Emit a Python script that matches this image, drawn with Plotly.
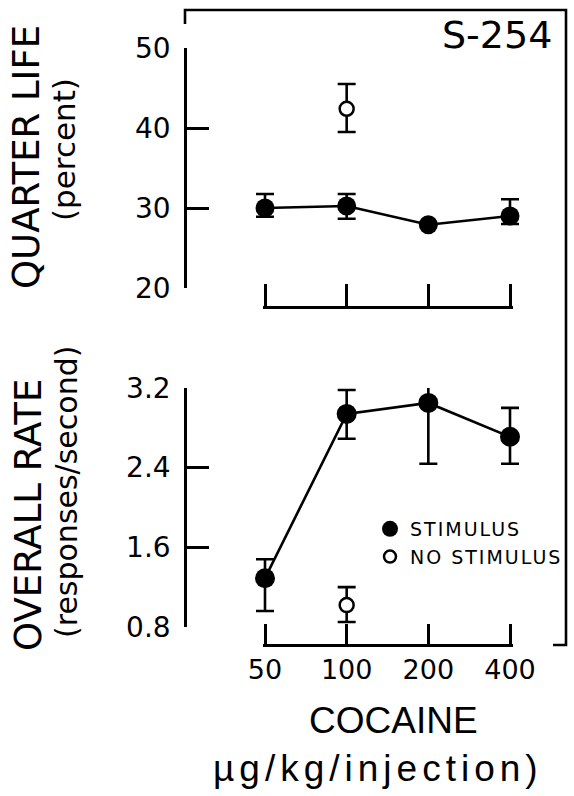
import numpy as np
import plotly.graph_objects as go

W, H = 574, 796

dose = [50, 100, 200, 400]
dose_labels = ['50', '100', '200', '400']

# quarter life (percent)
ql_stim = [30.0, 30.25, 27.9, 29.0]
ql_stim_up = [1.75, 1.5, 0, 2.1]
ql_stim_dn = [1.1, 1.6, 0, 1.0]
ql_nostim_dose = [100]
ql_nostim = [42.4]
ql_nostim_up = [3.1]
ql_nostim_dn = [2.9]

# overall rate (responses/second)
rate_stim = [1.29, 2.94, 3.05, 2.71]
rate_stim_up = [0.19, 0.24, 0.59, 0.29]
rate_stim_dn = [0.33, 0.25, 0.61, 0.27]
rate_nostim_dose = [100]
rate_nostim = [1.02]
rate_nostim_up = [0.18]
rate_nostim_dn = [0.17]

ql_ticks = [20, 30, 40, 50]
rate_ticks = [0.8, 1.6, 2.4, 3.2]
rate_ticktext = ['0.8', '1.6', '2.4', '3.2']


def px(x):
    return x / W


def py(y):
    return 1 - y / H


FONT = 'DejaVu Sans'
LW = 2.6

# pixel layout of the original figure
yax_x = 185          # y axis line
x_first, x_last = 265, 510   # 50 and 400 on the x scale
frame_r = 566
dec = (x_last - x_first) / (np.log10(400) - np.log10(50))
xr = [np.log10(50) - (x_first - yax_x) / dec, np.log10(400) + (frame_r - x_last) / dec]

fig = go.Figure()

err_style = dict(type='data', symmetric=False, color='black', thickness=LW, width=9)

# top panel
fig.add_trace(go.Scatter(x=dose, y=ql_stim, mode='lines+markers', xaxis='x', yaxis='y',
                         line=dict(color='black', width=LW),
                         marker=dict(size=19, color='black'),
                         error_y=dict(array=ql_stim_up, arrayminus=ql_stim_dn, **err_style),
                         showlegend=False, cliponaxis=False))
fig.add_trace(go.Scatter(x=ql_nostim_dose, y=ql_nostim, mode='markers', xaxis='x', yaxis='y',
                         marker=dict(size=14, color='white', line=dict(color='black', width=2.5)),
                         error_y=dict(array=ql_nostim_up, arrayminus=ql_nostim_dn, **err_style),
                         showlegend=False, cliponaxis=False))

# bottom panel
fig.add_trace(go.Scatter(x=dose, y=rate_stim, mode='lines+markers', xaxis='x2', yaxis='y2',
                         line=dict(color='black', width=LW),
                         marker=dict(size=20, color='black'),
                         error_y=dict(array=rate_stim_up, arrayminus=rate_stim_dn, **err_style),
                         showlegend=False, cliponaxis=False))
fig.add_trace(go.Scatter(x=rate_nostim_dose, y=rate_nostim, mode='markers', xaxis='x2', yaxis='y2',
                         marker=dict(size=14, color='white', line=dict(color='black', width=2.5)),
                         error_y=dict(array=rate_nostim_up, arrayminus=rate_nostim_dn, **err_style),
                         showlegend=False, cliponaxis=False))

# legend entries
fig.add_trace(go.Scatter(x=[None], y=[None], mode='markers', xaxis='x2', yaxis='y2',
                         marker=dict(size=16, color='black'),
                         name='<span style="letter-spacing:2px">STIMULUS</span>'))
fig.add_trace(go.Scatter(x=[None], y=[None], mode='markers', xaxis='x2', yaxis='y2',
                         marker=dict(size=12, color='white', line=dict(color='black', width=2.5)),
                         name='<span style="letter-spacing:2px">NO STIMULUS</span>'))

# dummy traces so the bracket axes get drawn
fig.add_trace(go.Scatter(x=[None], y=[None], xaxis='x3', yaxis='y', showlegend=False, hoverinfo='skip'))
fig.add_trace(go.Scatter(x=[None], y=[None], xaxis='x4', yaxis='y2', showlegend=False, hoverinfo='skip'))

data_x = dict(type='log', range=xr, domain=[px(yax_x), px(frame_r)], visible=False)
# plotly drops inside ticks sitting on the axis ends, so pad the bracket by a couple of px
pad = 2.5
bracket_x = dict(type='log', range=[np.log10(50) - pad / dec, np.log10(400) + pad / dec],
                 domain=[px(x_first - pad), px(x_last + pad)],
                 anchor='free', showline=True, linecolor='black', linewidth=LW,
                 ticks='inside', tickwidth=LW, tickcolor='black',
                 tickvals=dose, ticktext=dose_labels, showgrid=False, zeroline=False)
yax = dict(anchor='free', position=px(yax_x), showline=True, linecolor='black', linewidth=LW,
           ticks='inside', ticklen=22, tickwidth=LW, tickcolor='black', showgrid=False,
           zeroline=False, tickfont=dict(family=FONT, size=28, color='black'),
           ticklabelstandoff=8)

fig.update_layout(
    width=W, height=H,
    margin=dict(l=0, r=0, t=0, b=0, pad=0, autoexpand=False),
    paper_bgcolor='white', plot_bgcolor='rgba(0,0,0,0)',
    font=dict(family=FONT, color='black'),
    xaxis=data_x,
    xaxis2=dict(data_x, anchor='y2'),
    xaxis3=dict(bracket_x, position=py(307), ticklen=22, showticklabels=False),
    xaxis4=dict(bracket_x, position=py(645), ticklen=20, showticklabels=True,
                tickfont=dict(family=FONT, size=27, color='black')),
    yaxis=dict(yax, domain=[py(288), py(48)], range=[20, 50], tickvals=ql_ticks),
    yaxis2=dict(yax, domain=[py(627), py(388)], range=[0.8, 3.2], tickvals=rate_ticks,
                ticktext=rate_ticktext),
    legend=dict(x=px(370), y=py(510), xanchor='left', yanchor='top',
                font=dict(family=FONT, size=19, color='black'),
                bgcolor='rgba(0,0,0,0)', itemwidth=30, tracegroupgap=0),
    showlegend=True,
)

# frame around the panels
fig.add_shape(type='path', xref='paper', yref='paper',
              path=f'M {px(yax_x)} {py(24)} L {px(yax_x)} {py(10)} L {px(frame_r)} {py(10)} '
                   f'L {px(frame_r)} {py(645)} L {px(553)} {py(645)}',
              line=dict(color='black', width=LW))

ann = [
    dict(text='S-254', x=px(497), y=py(35), size=38, angle=0),
    dict(text='QUARTER LIFE', x=px(26), y=py(157), size=37, angle=-90),
    dict(text='(percent)', x=px(64), y=py(150), size=31, angle=-90),
    dict(text='OVERALL RATE', x=px(28), y=py(515), size=37, angle=-90),
    dict(text='(responses/second)', x=px(66), y=py(492), size=30, angle=-90),
]
for a in ann:
    fig.add_annotation(text=a['text'], x=a['x'], y=a['y'], xref='paper', yref='paper',
                       showarrow=False, textangle=a['angle'], xanchor='center', yanchor='middle',
                       font=dict(family=FONT, size=a['size'], color='black'))

cond = 'Liberation Sans Narrow, Liberation Sans, sans-serif'
fig.add_annotation(text='COCAINE', x=px(393), y=py(720),
                   xref='paper', yref='paper', showarrow=False, xanchor='center', yanchor='middle',
                   font=dict(family=cond, size=37, color='black'))
fig.add_annotation(text='<span style="letter-spacing:5px">µg/kg/injection)</span>', x=px(378), y=py(768),
                   xref='paper', yref='paper', showarrow=False, xanchor='center', yanchor='middle',
                   font=dict(family=cond, size=37, color='black'))

# the page body has a default 8px margin; drop it so the figure sits at the corner
fig.write_html("out.html", config={'displayModeBar': False},
               post_script="document.body.style.margin='0px';")
